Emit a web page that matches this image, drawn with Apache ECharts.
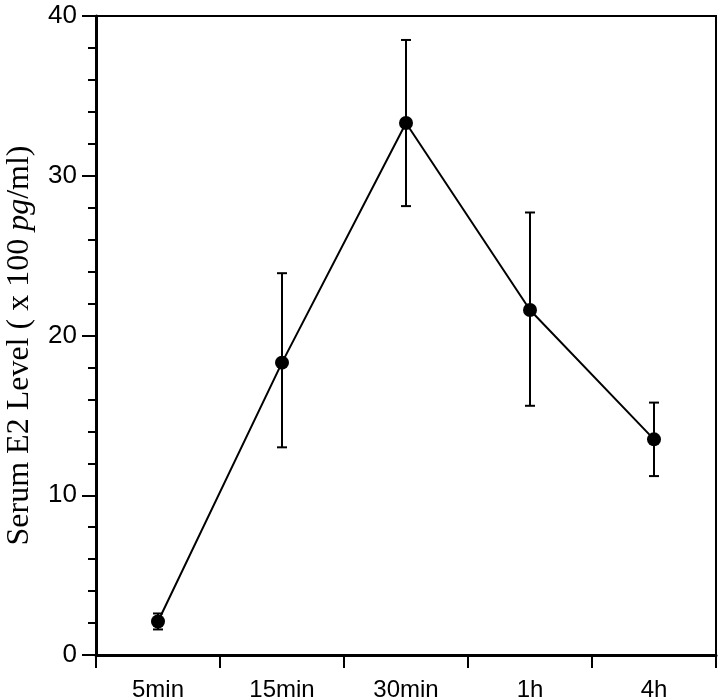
<!DOCTYPE html>
<html>
<head>
<meta charset="utf-8">
<title>Serum E2 Level</title>
<script src="https://cdn.jsdelivr.net/npm/echarts@6/dist/echarts.min.js"></script>
<style>
  html, body { margin: 0; padding: 0; background: #fff; }
  #chart { width: 720px; height: 700px; }
</style>
</head>
<body>
<div id="chart"></div>
<script>
// time points after injection
const timePoints = ['5min', '15min', '30min', '1h', '4h'];
// mean serum E2 (x 100 pg/ml)
const meanLevel = [2.1, 18.3, 33.3, 21.6, 13.5];
// error bar ends
const upperLevel = [2.6, 23.9, 38.5, 27.7, 15.8];
const lowerLevel = [1.6, 13.0, 28.1, 15.6, 11.2];

const errorData = timePoints.map((t, i) => [i, lowerLevel[i], upperLevel[i]]);

const chart = echarts.init(document.getElementById('chart'));

chart.setOption({
  animation: false,
  grid: {
    left: 96, right: 4, top: 16, bottom: 45,
    outerBoundsMode: 'none',
    show: true, borderColor: '#000', borderWidth: 2
  },
  xAxis: {
    type: 'category',
    data: timePoints,
    boundaryGap: true,
    axisLine: { lineStyle: { color: '#000', width: 3 } },
    axisTick: { show: true, length: 13, lineStyle: { color: '#000', width: 2 } },
    axisLabel: {
      color: '#000', fontSize: 24, margin: 23,
      fontFamily: 'Liberation Sans, Arial, sans-serif'
    },
    splitLine: { show: false }
  },
  yAxis: {
    type: 'value',
    min: 0, max: 40, interval: 10,
    name: 'Serum E2 Level ( x 100 {i|pg}/ml)',
    nameLocation: 'middle',
    nameGap: 60,
    nameTextStyle: {
      color: '#000', fontSize: 32, padding: [0, 20, 0, 0],
      fontFamily: 'Liberation Serif, Times New Roman, serif',
      rich: {
        i: {
          color: '#000', fontSize: 32, fontStyle: 'italic',
          fontFamily: 'Liberation Serif, Times New Roman, serif'
        }
      }
    },
    axisLine: { show: true, lineStyle: { color: '#000', width: 3 } },
    axisTick: { show: true, length: 14, lineStyle: { color: '#000', width: 2 } },
    minorTick: { show: true, splitNumber: 5, length: 8, lineStyle: { color: '#000', width: 2 } },
    axisLabel: {
      color: '#000', fontSize: 26, margin: 19,
      fontFamily: 'Liberation Sans, Arial, sans-serif'
    },
    splitLine: { show: false },
    minorSplitLine: { show: false }
  },
  series: [
    {
      type: 'custom',
      data: errorData,
      z: 3,
      renderItem: function (params, api) {
        const x = api.value(0);
        const lo = api.coord([x, api.value(1)]);
        const hi = api.coord([x, api.value(2)]);
        const half = 5;
        const style = { stroke: '#000', lineWidth: 2 };
        return {
          type: 'group',
          children: [
            { type: 'line', shape: { x1: lo[0], y1: lo[1], x2: hi[0], y2: hi[1] }, style: style },
            { type: 'line', shape: { x1: hi[0] - half, y1: hi[1], x2: hi[0] + half, y2: hi[1] }, style: style },
            { type: 'line', shape: { x1: lo[0] - half, y1: lo[1], x2: lo[0] + half, y2: lo[1] }, style: style }
          ]
        };
      }
    },
    {
      type: 'line',
      data: meanLevel,
      z: 4,
      symbol: 'circle',
      symbolSize: 14,
      itemStyle: { color: '#000' },
      lineStyle: { color: '#000', width: 2 }
    }
  ]
});
</script>
</body>
</html>
